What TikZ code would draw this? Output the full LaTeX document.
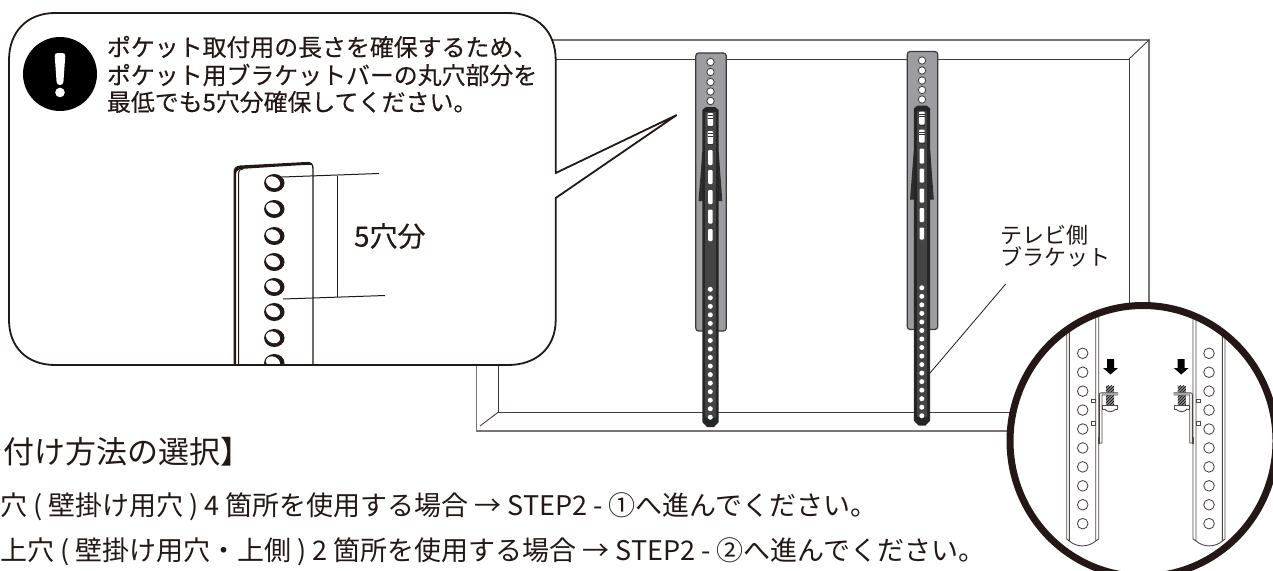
\documentclass[tikz,border=0pt]{standalone}
\usepackage{fontspec}
\usetikzlibrary{patterns}
\newfontfamily\jp{Noto Sans CJK JP}
\newfontfamily\jpm[FakeBold=0.25]{Noto Sans CJK JP}
\definecolor{ink}{HTML}{231815}
\definecolor{plate}{HTML}{9C9CA1}
\definecolor{barc}{HTML}{3A3A3A}
\tikzset{
  frameline/.style={draw=ink!85,line width=0.9pt},
  frameout/.style={draw=ink!60,line width=1.1pt},
  lbl/.style={anchor=west,inner sep=0pt,outer sep=0pt,text=ink},
  calltext/.style={lbl,font=\jpm\fontsize{23.9}{24}\selectfont},
  bodytext/.style={lbl,font=\jp\fontsize{27}{28}\selectfont},
  holeplate/.style={fill=white,draw=barc,line width=0.8pt},
  holebar/.style={fill=white,draw=none},
  slot/.style={fill=white,draw=none,rounded corners=1pt},
  dim/.style={draw=ink,line width=1pt},
  glass/.style={draw=ink!80,line width=0.9pt,fill=white}
}
\newcommand{\tvbracket}{%
  \draw[fill=plate,draw=barc,line width=1.2pt,rounded corners=3pt] (695.7,53) rectangle (726.3,331);
  \foreach \yy in {62,72,82,91.5,101} \draw[holeplate] (710.5,\yy) circle (3.7);
  \fill[barc!80!black] (702.3,152) -- (698.5,201) -- (722.3,201) -- (718.7,152) -- cycle;
  \fill[black!85] (702.3,110) -- (706,107) -- (715,107) -- (718.7,110) -- (718.7,422) -- (714,427) -- (707,427) -- (702.3,422) -- cycle;
  \fill[barc!95] (705.2,112) rectangle (715.8,418);
  \foreach \ya/\yb in {150/165,170/184,190/204,209.5/223.5,229/241}
    \fill[slot] (708,\ya) rectangle (712.7,\yb);
  \foreach \ya in {113,131}{
    \fill[white,rounded corners=1pt] (707.6,\ya) rectangle (713,\ya+13);
    \draw[black!80,line width=0.7pt] (707.6,\ya+2.5) -- (713,\ya+2.5) (707.6,\ya+5) -- (713,\ya+5);
    \draw[black!80,line width=0.7pt] (707.2,\ya+13.5) -- (713.4,\ya+13.5);
  }
  \draw[black!70,line width=0.6pt] (708,241.5) .. controls (709,243.5) and (712,243.5) .. (712.7,241.5);
  \foreach \k in {0,...,15} \fill[holebar] (710.3,289.3+8.53*\k) circle (2.5);
}
\newcommand{\glassbar}{%
  \draw[glass,fill=none] (1066.7,325) -- (1066.7,539) (1069.3,325) -- (1069.3,541)
    .. controls (1077,547.5) and (1088,547.5) .. (1095.7,541) -- (1095.7,310)
    (1098.7,310) -- (1098.7,539) (1066.7,539) -- (1069.3,541) (1095.7,541) -- (1098.7,539);
  \foreach \k in {0,...,9} \draw[draw=ink!85,line width=0.8pt,fill=white] (1082.7,353.3+18.93*\k) circle (5.3);
  \draw[glass] (1091.3,399.3) rectangle (1095.7,402.7);
  \draw[glass] (1091.3,421.7) rectangle (1095.7,425);
  \fill[black] (1107,359) -- (1114,359) -- (1114,368) -- (1118,368) -- (1110.5,374.5) -- (1103,368) -- (1107,368) -- cycle;
  \fill[gray!90] (1106,385.7) rectangle (1114,405);
  \fill[pattern=north east lines,pattern color=black] (1106,385.7) rectangle (1114,405);
  \draw[glass,fill=white] (1099.3,443) -- (1099.3,395) .. controls (1099.3,393.5) and (1100,392.7) .. (1102,392.7) -- (1117.7,392.7) -- (1117.7,395) -- (1102,395) -- (1102,443) -- cycle;
  \fill[gray!70] (1102,393) rectangle (1117.5,394.8);
  \draw[glass] (1098,437) rectangle (1099.6,443);
  \draw[glass,fill=white] (1102.5,405) rectangle (1117.5,409);
  \draw[glass] (1104.5,409) .. controls (1107,412.5) and (1113,412.5) .. (1116,409);
}
\begin{document}
\begin{tikzpicture}[x=1pt,y=-1pt]
\useasboundingbox (0,0) rectangle (1273,570);
\fill[white] (0,0) rectangle (1273,570);
% television frame
\coordinate (fo1) at (476.5,40);
\coordinate (fo2) at (1149,40);
\coordinate (fo3) at (1149,431);
\coordinate (fo4) at (476.5,431);
\coordinate (fi1) at (498.5,59);
\coordinate (fi2) at (1129,59);
\coordinate (fi3) at (1129,412);
\coordinate (fi4) at (498.5,412);
\draw[frameout] (fo1) -- (fo2) -- (fo3) -- (fo4) -- cycle;
\draw[frameline] (fi1) -- (fi2) -- (fi3) -- (fi4) -- cycle;
\draw[frameline] (fo2) -- (fi2);
\draw[frameline] (fi4) -- (480,426);
% brackets
\begin{scope}\tvbracket\end{scope}
\begin{scope}[shift={(211.5,-1.5)}]\tvbracket\end{scope}
% label and leader
\node[lbl,font=\jp\fontsize{22}{24}\selectfont] (lab1) at (1000,235) {テレビ側};
\node[lbl,font=\jp\fontsize{22}{24}\selectfont] (lab2) at (1000,257) {ブラケット};
\coordinate (lead) at (1005.7,284);
\coordinate (leadend) at (930,373);
\draw[draw=ink,line width=0.8pt] (lead) -- (leadend);
% callout
\draw[fill=white,draw=ink,line width=1.8pt]
  (55,13) -- (508,13) .. controls (538,13) and (555.7,32) .. (555.7,60) -- (555.7,173) -- (676.7,115) -- (555.7,198)
  -- (555.7,320) .. controls (555.7,348) and (536,365) .. (508,365) -- (55,365)
  .. controls (27,365) and (9,347) .. (9,320) -- (9,60) .. controls (9,32) and (27,13) .. (55,13) -- cycle;
% warning mark
\fill[black] (60,74) circle (37);
\fill[white,rounded corners=3pt] (54.5,53) -- (65.5,53) -- (63.2,85) -- (56.8,85) -- cycle;
\fill[white] (60,92.5) circle (4.8);
\node[calltext] (c1) at (107,47) {ポケット取付用の長さを確保するため、};
\node[calltext] (c2) at (107,75) {ポケット用ブラケットバーの丸穴部分を};
\node[calltext] (c3) at (107,102) {最低でも5穴分確保してください。};
% magnified bar
\begin{scope}
\clip (225,150) rectangle (320,364.2);
\draw[draw=ink,line width=1.3pt,fill=white] (313,364.5) -- (313,169) .. controls (313,164) and (311,162.5) .. (307,162.5);
\draw[draw=ink,line width=1pt] (238.5,364.5) -- (238.5,173) .. controls (238.5,170) and (240,169.5) .. (243,169);
\fill[ink] (233.5,364.5) -- (233.5,172) .. controls (233.5,168) and (236,166) .. (240,165.5) -- (306,162) .. controls (309,162) and (311,163) .. (312,165)
  .. controls (308,164.5) and (290,165.8) .. (240,169) .. controls (237,169.5) and (236,172) .. (236,176) -- (236,364.5) -- cycle;
\foreach \yy in {183,209,236,262,287,312,338,363}{
  \fill[ink] (274.3,\yy) ellipse (10.2 and 9);
  \fill[white,rotate around={-25:(273,\yy-0.7)}] (273,\yy-0.7) ellipse (7.3 and 5.6);
}
\end{scope}
\draw[ink,line width=1.8pt] (230,365) -- (320,365);
\coordinate (d1a) at (282,177);
\coordinate (d1b) at (379,173.5);
\coordinate (d2a) at (283,299);
\coordinate (d2b) at (385,295.5);
\draw[dim] (d1a) -- (d1b);
\draw[dim] (d2a) -- (d2b);
\draw[dim] (337.5,176) -- (337.5,296.5);
\node[lbl,font=\jpm\fontsize{28}{30}\selectfont] (five) at (354,236) {5穴分};
% magnifier circle
\fill[white] (1143,441) ellipse (133 and 135.5);
\begin{scope}
\clip (1143,441) ellipse (133 and 135.5);
\glassbar
\begin{scope}[xshift=2291.7pt,xscale=-1]\glassbar\end{scope}
\end{scope}
\draw[ink,line width=7pt] (1143,441) ellipse (133 and 135.5);
% lower text
\node[lbl,font=\jp\fontsize{31}{32}\selectfont] (h) at (3,452) {付け方法の選択】};
\node[bodytext] (l1) at (0,507) {穴 ( 壁掛け用穴 ) 4 箇所を使用する場合 → STEP2 - ①へ進んでください。};
\node[bodytext] (l2) at (0,552) {上穴 ( 壁掛け用穴・上側 ) 2 箇所を使用する場合 → STEP2 - ②へ進んでください。};
\end{tikzpicture}
\end{document}
